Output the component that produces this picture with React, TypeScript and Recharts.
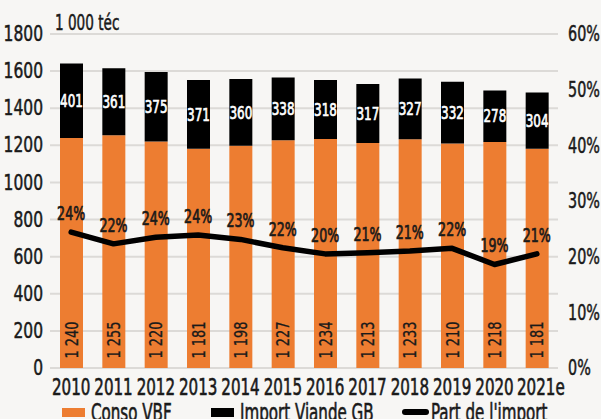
import React from 'react';
import { ComposedChart, Bar, Line, XAxis, YAxis, CartesianGrid, LabelList } from 'recharts';

const years = ['2010', '2011', '2012', '2013', '2014', '2015', '2016', '2017', '2018', '2019', '2020', '2021e'];
const consoVbf = [1240, 1255, 1220, 1181, 1198, 1227, 1234, 1213, 1233, 1210, 1218, 1181];
const importGb = [401, 361, 375, 371, 360, 338, 318, 317, 327, 332, 278, 304];
const partImport = [24.4, 22.3, 23.5, 23.9, 23.1, 21.6, 20.5, 20.7, 21.0, 21.5, 18.6, 20.5];
const partLabels = ['24%', '22%', '24%', '24%', '23%', '22%', '20%', '21%', '21%', '22%', '19%', '21%'];
const leftTicks = [0, 200, 400, 600, 800, 1000, 1200, 1400, 1600, 1800];
const rightTicks = [0, 10, 20, 30, 40, 50, 60];

const ORANGE = '#ed7d31';
const BLACK = '#000000';
const INK = '#1a1a1a';
const BG = '#f7f6f4';
const FONT = "'Liberation Sans Narrow', 'DejaVu Sans Condensed', 'Roboto Condensed', 'Liberation Sans', sans-serif";

const data = years.map((y, i) => ({
  year: y,
  conso: consoVbf[i],
  imp: importGb[i],
  part: partImport[i],
  partLabel: partLabels[i],
}));

// narrow text helper: condensed look by squeezing along the text direction,
// thin stroke gives the medium weight of the original font
function Narrow({ x, y, size, anchor = 'middle', fill = INK, weight = 400, rotate = 0, sx = 0.85, bold = 0.5, base = 'central', children }: any) {
  return (
    <g transform={`translate(${x},${y}) rotate(${rotate}) scale(${sx},1)`}>
      <text x={0} y={0} textAnchor={anchor} dominantBaseline={base} fontFamily={FONT} fontSize={size} fontWeight={weight}
        fill={fill} stroke={fill} strokeWidth={bold}>
        {children}
      </text>
    </g>
  );
}

const LeftTick = ({ x, y, payload }: any) => (
  <Narrow x={x + 1} y={y} size={21} sx={0.82} anchor="end">{payload.value}</Narrow>
);

const RightTick = ({ x, y, payload }: any) => (
  <Narrow x={x + 2} y={y} size={21} sx={0.76} anchor="start">{payload.value}%</Narrow>
);

const YearTick = ({ x, y, payload }: any) => {
  const v: string = payload.value;
  const shift = v.endsWith('e') ? 4 : 0;
  return <Narrow x={x + shift} y={y + 11} size={23} sx={0.73} bold={0.6}>{v}</Narrow>;
};

const ImportLabel = (p: any) => {
  const { x, y, width, height, value } = p;
  return <Narrow x={x + width / 2} y={y + height / 2} size={18} sx={0.74} fill="#ffffff" bold={0.7}>{value}</Narrow>;
};

const ConsoLabel = (p: any) => {
  const { x, y, width, height, value } = p;
  const txt = String(value).replace(/^(\d)(\d{3})$/, '$1 $2');
  return <Narrow x={x + width / 2} y={y + height - 28} size={18} rotate={-90} sx={0.8} bold={0.3}>{txt}</Narrow>;
};

const PartLabel = (p: any) => {
  const { x, y, index } = p;
  return <Narrow x={x} y={y - 19} size={19} sx={0.74} bold={0.7}>{partLabels[index]}</Narrow>;
};

const legendItems = [
  { name: 'Conso VBF', color: ORANGE, kind: 'box', left: 62 },
  { name: 'Import Viande GB', color: BLACK, kind: 'box', left: 211 },
  { name: "Part de l'import", color: BLACK, kind: 'line', left: 402 },
];

export default function App() {
  return (
    <div style={{ position: 'absolute', left: 0, top: 0, width: 601, height: 419, background: BG, overflow: 'hidden' }}>
      <ComposedChart width={601} height={419} data={data} margin={{ top: 34, right: 0, bottom: 0, left: 0 }}>
        <CartesianGrid yAxisId="left" vertical={false} stroke="#dcdad7" strokeWidth={2} />
        <XAxis dataKey="year" height={51} axisLine={false} tickLine={false} tick={<YearTick />} interval={0} />
        <YAxis yAxisId="left" width={50} domain={[0, 1800]} ticks={leftTicks} axisLine={false} tickLine={false} tick={<LeftTick />} interval={0} />
        <YAxis yAxisId="right" orientation="right" width={43} domain={[0, 60]} ticks={rightTicks} axisLine={false} tickLine={false} tick={<RightTick />} interval={0} />
        <Bar yAxisId="left" dataKey="conso" stackId="a" fill={ORANGE} barSize={23} isAnimationActive={false}>
          <LabelList dataKey="conso" content={<ConsoLabel />} />
        </Bar>
        <Bar yAxisId="left" dataKey="imp" stackId="a" fill={BLACK} barSize={23} isAnimationActive={false}>
          <LabelList dataKey="imp" content={<ImportLabel />} />
        </Bar>
        <Line yAxisId="right" dataKey="part" stroke={BLACK} strokeWidth={5.5} strokeLinecap="round" strokeLinejoin="round" dot={false} type="linear" isAnimationActive={false}>
          <LabelList dataKey="partLabel" content={<PartLabel />} />
        </Line>
      </ComposedChart>
      <svg width={601} height={419} style={{ position: 'absolute', left: 0, top: 0, pointerEvents: 'none' }}>
        <Narrow x={55} y={30} size={21} sx={0.72} anchor="start" base="alphabetic">1 000 téc</Narrow>
        {legendItems.map((it) => (
          <g key={it.name}>
            {it.kind === 'box' ? (
              <rect x={it.left} y={408} width={23} height={9} fill={it.color} />
            ) : (
              <line x1={it.left + 3} x2={it.left + 24} y1={412} y2={412} stroke={it.color} strokeWidth={6} strokeLinecap="round" />
            )}
            <Narrow x={it.left + 29} y={421} size={24} sx={0.7} anchor="start" base="alphabetic" bold={0.6}>{it.name}</Narrow>
          </g>
        ))}
      </svg>
    </div>
  );
}
